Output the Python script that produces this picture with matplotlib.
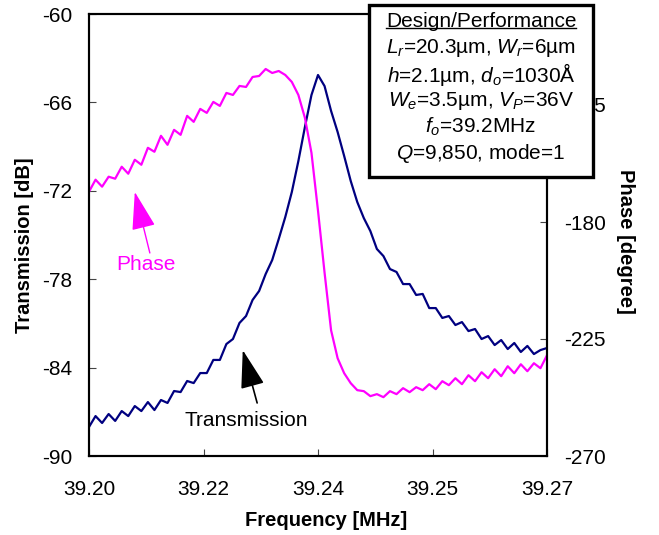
import numpy as np
import matplotlib
matplotlib.use("Agg")
import matplotlib.pyplot as plt
from matplotlib.patches import Rectangle
from matplotlib.lines import Line2D

plt.rcParams['font.family'] = ['Liberation Sans', 'DejaVu Sans']
plt.rcParams['mathtext.fontset'] = 'custom'
plt.rcParams['mathtext.rm'] = 'Liberation Sans'
plt.rcParams['mathtext.it'] = 'Liberation Sans:italic'

# frequency grid [MHz], 1 kHz steps
freq = np.round(np.arange(0, 71) * 0.001 + 39.200, 4)

# transmission [dB]
transmission = [
    -88.03, -87.29, -87.76, -87.15, -87.62, -86.95, -87.29, -86.61, -86.95, -86.34,
    -86.88, -86.20, -86.40, -85.59, -85.66, -84.91, -85.05, -84.37, -84.37, -83.48,
    -83.48, -82.40, -82.06, -80.97, -80.50, -79.41, -78.80, -77.65, -76.70, -75.27,
    -73.78, -72.08, -69.98, -67.67, -65.50, -64.14, -64.89, -66.58, -68.01, -69.64,
    -71.33, -72.76, -73.85, -74.73, -75.95, -76.43, -77.31, -77.51, -78.33, -78.33,
    -79.07, -79.00, -79.96, -79.96, -80.63, -80.50, -81.11, -80.91, -81.52, -81.38,
    -82.06, -81.86, -82.47, -82.13, -82.74, -82.33, -82.94, -82.53, -83.08, -82.81,
    -82.67,
]

# phase [degree]
phase = [
    -168.34, -163.73, -166.42, -162.58, -163.35, -158.75, -161.43, -156.06, -157.98, -151.46,
    -152.99, -146.85, -150.31, -144.55, -146.47, -139.18, -141.48, -136.50, -138.03, -133.81,
    -135.35, -130.36, -131.13, -127.67, -128.06, -124.22, -123.84, -121.15, -122.69, -121.92,
    -123.45, -126.14, -131.13, -139.95, -153.38, -175.63, -199.41, -221.66, -232.40, -238.16,
    -241.99, -244.68, -245.06, -246.98, -246.21, -247.37, -245.06, -246.21, -243.91, -245.45,
    -243.53, -244.68, -242.38, -244.30, -241.23, -242.76, -240.08, -242.38, -238.93, -241.23,
    -237.78, -240.08, -236.62, -239.31, -235.47, -238.16, -234.71, -237.39, -234.32, -236.24,
    -231.25,
]

xticks = np.linspace(39.20, 39.27, 5)
xtick_labels = ['39.20', '39.22', '39.24', '39.25', '39.27']
db_ticks = [-90, -84, -78, -72, -66, -60]
deg_ticks = [-270, -225, -180, -135]

box_title = 'Design/Performance'
box_lines = [
    r'$L_r$=20.3µm, $W_r$=6µm',
    r'$h$=2.1µm, $d_o$=1030Å',
    r'$W_e$=3.5µm, $V_P$=36V',
    r'$f_o$=39.2MHz',
    r'$Q$=9,850, mode=1',
]

navy = '#000080'
magenta = '#FF00FF'

fig = plt.figure(figsize=(6.59, 5.35), dpi=100)
ax = fig.add_axes([89 / 659, 79 / 535, 458 / 659, 442 / 535])
ax2 = ax.twinx()

ax.plot(freq, transmission, color=navy, lw=1.6)
ax2.plot(freq, phase, color=magenta, lw=1.6)

ax.set_xlim(39.20, 39.27)
ax.set_ylim(-90, -60)
ax2.set_ylim(-270, -100)
ax.set_xticks(xticks)
ax.set_xticklabels(xtick_labels)
ax.set_yticks(db_ticks)
ax.set_yticklabels([str(v) for v in db_ticks])
ax2.set_yticks(deg_ticks)
ax2.set_yticklabels([str(v) for v in deg_ticks])

for a in (ax, ax2):
    for s in a.spines.values():
        s.set_linewidth(1.5)
        s.set_color('black')
ax.tick_params(axis='both', direction='in', length=5, width=0.8, labelsize=15, color='#444444')
ax.tick_params(axis='y', pad=12)
ax.tick_params(axis='x', pad=17)
ax2.tick_params(axis='y', direction='in', length=5, width=0.8, labelsize=15, pad=12, color='#444444')

fig.text(25 / 659, 1 - 245 / 535, 'Transmission [dB]', rotation=90, ha='center', va='center',
         fontsize=14.5, fontweight='bold')
fig.text(326 / 659, 1 - 520 / 535, 'Frequency [MHz]', ha='center', va='center',
         fontsize=14.5, fontweight='bold')
fig.text(626 / 659, 1 - 241 / 535, 'Phase [degree]', rotation=270, ha='center', va='center',
         fontsize=14.5, fontweight='bold')

# annotations
ax.text(39.2087, -76.97, 'Phase', color=magenta, fontsize=15, ha='center', va='center')
ax.annotate('', xy=(39.2070, -72.08), xytext=(39.2093, -76.22),
            arrowprops=dict(arrowstyle='-|>,head_length=24,head_width=7.5', mutation_scale=1,
                            color=magenta, lw=1.0, shrinkA=0, shrinkB=0))
ax.text(39.2240, -87.56, 'Transmission', color='black', fontsize=15, ha='center', va='center')
ax.annotate('', xy=(39.2235, -82.81), xytext=(39.2257, -86.40),
            arrowprops=dict(arrowstyle='-|>,head_length=24,head_width=7.5', mutation_scale=1,
                            color='black', lw=1.2, shrinkA=0, shrinkB=0))

# design box
ax2.add_patch(Rectangle((0.611, 0.631), 0.489, 0.389, transform=ax2.transAxes,
                        facecolor='white', edgecolor='black', lw=2.4, clip_on=False, zorder=10))
cx = 0.856
title = ax2.text(cx, 0.984, box_title, transform=ax2.transAxes, ha='center', va='center',
                 fontsize=15, zorder=11)
for i, line in enumerate(box_lines):
    ax2.text(cx, 0.924 - 0.06 * i, line, transform=ax2.transAxes, ha='center', va='center',
             fontsize=15, zorder=11)

fig.canvas.draw()
bb = title.get_window_extent().transformed(fig.transFigure.inverted())
fig.add_artist(Line2D([bb.x0, bb.x1], [bb.y0 + 0.004, bb.y0 + 0.004], color='black', lw=1.0,
                      transform=fig.transFigure, zorder=12))

fig.savefig('out.png', dpi=100)
